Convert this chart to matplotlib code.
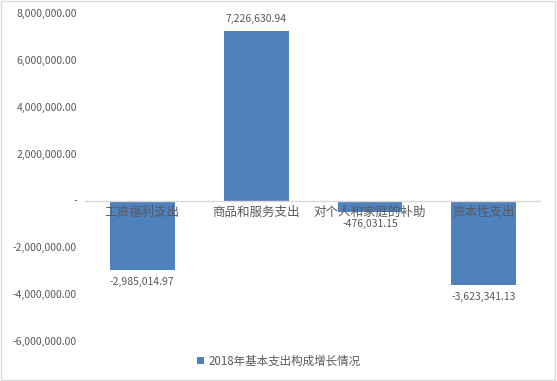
import matplotlib.pyplot as plt
from matplotlib.patches import Rectangle
from matplotlib.ticker import FuncFormatter

plt.rcParams['font.family'] = ['Noto Sans CJK SC', 'DejaVu Sans']

categories = ["工资福利支出", "商品和服务支出", "对个人和家庭的补助", "资本性支出"]
values = [-2985014.97, 7226630.94, -476031.15, -3623341.13]
series_name = "2018年基本支出构成增长情况"
yticks = [-6000000, -4000000, -2000000, 0, 2000000, 4000000, 6000000, 8000000]

bar_color = "#4f81bd"
text_color = "#595959"

fig = plt.figure(figsize=(5.57, 3.81), dpi=100)
ax = fig.add_axes([0.153, 0.105, 0.818, 0.86])

x = range(len(categories))
bars = ax.bar(x, values, width=0.57, color=bar_color, label=series_name, zorder=2)

ax.set_ylim(-6000000, 8000000)
ax.set_xlim(-0.5, len(categories) - 0.5)
ax.set_yticks(yticks)
ax.yaxis.set_major_formatter(FuncFormatter(lambda v, p: "-" if v == 0 else f"{v:,.2f}"))
ax.tick_params(axis='y', length=0, labelsize=7.5, labelcolor=text_color, pad=6)
ax.set_xticks([])
for s in ax.spines.values():
    s.set_visible(False)
ax.axhline(0, color="#d9d9d9", lw=1, zorder=3)

# category labels just under the zero line
for i, c in enumerate(categories):
    ax.annotate(c, (i, 0), xytext=(0, -4), textcoords="offset points",
                ha="center", va="top", fontsize=9, color=text_color, zorder=4)

# value labels
for i, v in enumerate(values):
    if v >= 0:
        ax.annotate(f"{v:,.2f}", (i, v), xytext=(0, 5), textcoords="offset points",
                    ha="center", va="bottom", fontsize=7.5, color=text_color)
    else:
        ax.annotate(f"{v:,.2f}", (i, v), xytext=(0, -5), textcoords="offset points",
                    ha="center", va="top", fontsize=7.5, color=text_color)

leg = fig.legend(handles=[bars], labels=[series_name], loc="center",
                 bbox_to_anchor=(0.5, 0.052), frameon=False, fontsize=8.3,
                 handlelength=0.6, handleheight=0.6, handletextpad=0.4)
for t in leg.get_texts():
    t.set_color(text_color)

fig.patches.append(Rectangle((0.002, 0.003), 0.995, 0.994, transform=fig.transFigure,
                             fill=False, edgecolor="#d9d9d9", lw=1))

fig.savefig("out.png", dpi=100)
